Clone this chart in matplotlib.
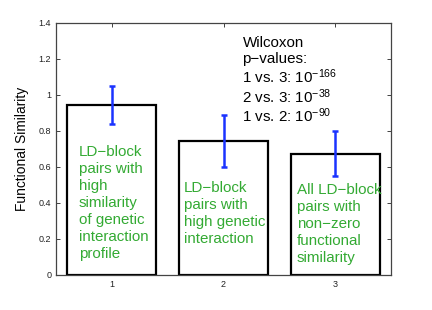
import matplotlib
matplotlib.use("Agg")
import matplotlib.pyplot as plt
from matplotlib.ticker import FuncFormatter

plt.rcParams['font.family'] = ['Liberation Sans', 'DejaVu Sans']
plt.rcParams['mathtext.fontset'] = 'custom'
plt.rcParams['mathtext.rm'] = 'Liberation Sans'
plt.rcParams['mathtext.it'] = 'Liberation Sans'

categories = [1, 2, 3]
means = [0.944, 0.746, 0.675]
errors = [0.104, 0.145, 0.125]
bar_labels = [
    "LD\u2212block\npairs with\nhigh\nsimilarity\nof genetic\ninteraction\nprofile",
    "LD\u2212block\npairs with\nhigh genetic\ninteraction",
    "All LD\u2212block\npairs with\nnon\u2212zero\nfunctional\nsimilarity",
]
pvalue_lines = ["Wilcoxon", "p\u2212values:",
                "1 vs. 3: 10$^{\u2212166}$", "2 vs. 3: 10$^{\u221238}$", "1 vs. 2: 10$^{\u221290}$"]

fig = plt.figure(figsize=(4.32, 3.10), dpi=100)
ax = fig.add_axes([56/432, 1-275/310, (391-56)/432, (275-23)/310])

ax.bar(categories, means, width=0.8, facecolor='white', edgecolor='black', linewidth=1.6, zorder=2)
ax.errorbar(categories, means, yerr=errors, fmt='none', ecolor='#1a33ff', elinewidth=1.8,
            capsize=2.5, capthick=1.8, zorder=3)

ax.set_xlim(0.5, 3.5)
ax.set_ylim(0, 1.4)
ax.set_xticks(categories)
ax.set_yticks([0, 0.2, 0.4, 0.6, 0.8, 1.0, 1.2, 1.4])
ax.yaxis.set_major_formatter(FuncFormatter(lambda v, p: f"{v:g}"))
ax.tick_params(direction='in', top=True, right=True, labelsize=6.5, length=3, width=0.6, colors='#222222')
for s in ax.spines.values():
    s.set_color('#444444')
    s.set_linewidth(0.9)
ax.set_ylabel("Functional Similarity", fontsize=9.9, labelpad=7)

# anchored at the baseline of the last line
text_pos = [(0.706, 0.094), (1.646, 0.18), (2.658, 0.072)]
for (x, y), lab in zip(text_pos, bar_labels):
    ax.text(x, y, lab, color='#33aa33', fontsize=10.9, va='baseline', ha='left',
            linespacing=1.27, zorder=4)

p_y = [1.265, 1.18, 1.067, 0.956, 0.85]
for y, line in zip(p_y, pvalue_lines):
    ax.text(2.17, y, line, color='black', fontsize=10.9, va='baseline', ha='left', zorder=4)

fig.savefig("out.png", dpi=100)
